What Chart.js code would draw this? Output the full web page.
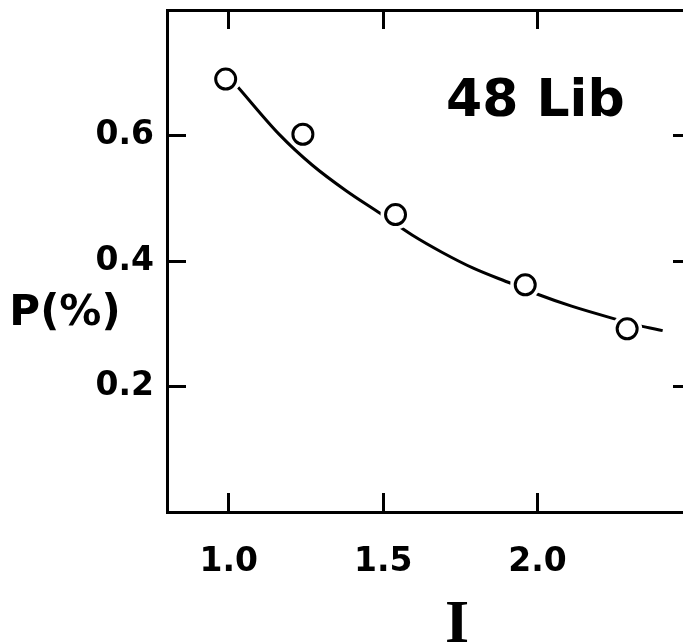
<!DOCTYPE html>
<html>
<head>
<meta charset="utf-8">
<title>48 Lib</title>
<script src="https://cdn.jsdelivr.net/npm/chart.js@4/dist/chart.umd.min.js"></script>
<style>
  html, body { margin: 0; padding: 0; overflow: hidden; background: #fff; }
  #wrap { position: relative; width: 700px; height: 644px; }
</style>
</head>
<body>
<div id="wrap"><canvas id="chart"></canvas></div>
<script>
// measured points (open circles)
const pointX = [0.99, 1.24, 1.54, 1.96, 2.29];
const pointY = [0.690, 0.602, 0.474, 0.362, 0.292];

// hand-drawn fitted curve
const curveX = [1.03, 1.165, 1.27, 1.38, 1.49, 1.595, 1.69, 1.79, 1.915, 2.0, 2.11, 2.255, 2.33, 2.405];
const curveY = [0.677, 0.601, 0.553, 0.512, 0.476, 0.441, 0.414, 0.389, 0.364, 0.347, 0.328, 0.307, 0.297, 0.289];

const xTicks = [1.0, 1.5, 2.0];
const xTickLabels = ['1.0', '1.5', '2.0'];
const yTicks = [0.2, 0.4, 0.6];
const yTickLabels = ['0.2', '0.4', '0.6'];

const xTitle = 'I';
const yTitle = 'P(%)';
const panelLabel = '48 Lib';

const tickFont = { family: 'DejaVu Sans', weight: 'bold', size: 33 };

function toXY(xs, ys) {
    return xs.map((x, i) => ({ x: x, y: ys[i] }));
}

function setTicks(values) {
    return function (scale) {
        scale.ticks = values.map(v => ({ value: v }));
    };
}

// fixed box size for a scale, no extra label padding
function fixSize(prop, size) {
    return function (scale) {
        scale[prop] = size;
        scale.paddingTop = 0;
        scale.paddingBottom = 0;
        scale.paddingLeft = 0;
        scale.paddingRight = 0;
    };
}

// text that sits outside the usual axis title spots
const textPlugin = {
    id: 'freeText',
    afterDraw(chart) {
        const ctx = chart.ctx;
        ctx.save();
        ctx.fillStyle = '#000';

        ctx.font = 'bold 42px "DejaVu Sans"';
        ctx.textAlign = 'center';
        ctx.textBaseline = 'middle';
        ctx.fillText(yTitle, 65, 314);

        ctx.font = 'bold 52px "DejaVu Sans"';
        ctx.textAlign = 'left';
        ctx.textBaseline = 'alphabetic';
        ctx.fillText(panelLabel, 446, 116);

        ctx.font = 'bold 62px "Liberation Serif"';
        ctx.textAlign = 'center';
        ctx.fillText(xTitle, 457, 642);
        ctx.restore();
    }
};

const frameGrid = { drawOnChartArea: false, drawTicks: true, tickLength: -19, color: '#000', lineWidth: 3 };
const frameBorder = { display: true, color: '#000', width: 3 };

const ctx = document.getElementById('chart').getContext('2d');
window.myChart = new Chart(ctx, {
    type: 'scatter',
    data: {
        datasets: [
            {
                label: 'measured',
                data: toXY(pointX, pointY),
                pointRadius: 10,
                pointBorderWidth: 3,
                pointBorderColor: '#000',
                pointBackgroundColor: '#fff',
                showLine: false,
                order: 0
            },
            {
                label: 'gap',
                data: toXY(pointX, pointY),
                pointRadius: 15,
                pointBorderWidth: 0,
                pointBackgroundColor: '#fff',
                pointBorderColor: '#fff',
                showLine: false,
                order: 1
            },
            {
                label: 'fit',
                data: toXY(curveX, curveY),
                showLine: true,
                borderColor: '#000',
                borderWidth: 3,
                pointRadius: 0,
                cubicInterpolationMode: 'monotone',
                order: 2
            }
        ]
    },
    options: {
        responsive: true,
        maintainAspectRatio: false,
        animation: false,
        layout: { padding: 0, autoPadding: false },
        plugins: {
            legend: { display: false },
            tooltip: { enabled: false }
        },
        scales: {
            x: {
                type: 'linear',
                position: 'bottom',
                min: 0.8,
                max: 2.5,
                afterBuildTicks: setTicks(xTicks),
                afterFit: fixSize('height', 132),
                grid: frameGrid,
                border: frameBorder,
                ticks: {
                    padding: 50,
                    color: '#000',
                    font: tickFont,
                    maxRotation: 0,
                    callback: v => xTickLabels[xTicks.indexOf(v)]
                }
            },
            xTop: {
                type: 'linear',
                position: 'top',
                min: 0.8,
                max: 2.5,
                afterBuildTicks: setTicks(xTicks),
                afterFit: fixSize('height', 10),
                grid: frameGrid,
                border: frameBorder,
                ticks: { display: false }
            },
            y: {
                type: 'linear',
                position: 'left',
                min: 0,
                max: 0.8,
                afterBuildTicks: setTicks(yTicks),
                afterFit: fixSize('width', 167),
                grid: frameGrid,
                border: frameBorder,
                ticks: {
                    padding: 32,
                    color: '#000',
                    font: tickFont,
                    callback: v => yTickLabels[yTicks.indexOf(v)]
                }
            },
            yRight: {
                type: 'linear',
                position: 'right',
                min: 0,
                max: 0.8,
                afterBuildTicks: setTicks(yTicks),
                afterFit: fixSize('width', 8),
                grid: frameGrid,
                border: frameBorder,
                ticks: { display: false }
            }
        }
    },
    plugins: [textPlugin]
});
</script>
</body>
</html>
